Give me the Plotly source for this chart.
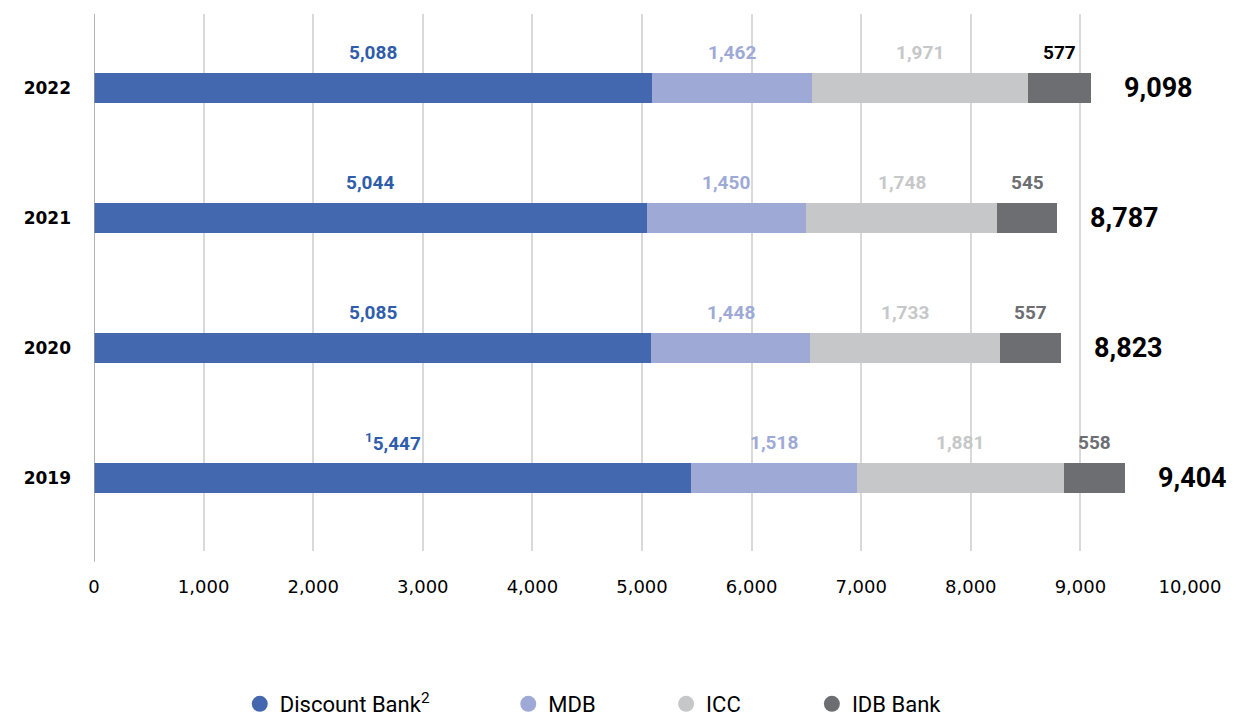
import plotly.graph_objects as go

years = ["2019", "2020", "2021", "2022"]
series_names = ["Discount Bank", "MDB", "ICC", "IDB Bank"]
discount_bank = [5447, 5085, 5044, 5088]
mdb = [1518, 1448, 1450, 1462]
icc = [1881, 1733, 1748, 1971]
idb_bank = [558, 557, 545, 577]
totals = [9404, 8823, 8787, 9098]
x_ticks = [0, 1000, 2000, 3000, 4000, 5000, 6000, 7000, 8000, 9000, 10000]

bar_colors = ["#4468B0", "#9EA9D6", "#C6C7C8", "#6D6E72"]
label_colors = ["#2F5DAA", "#9EA9D6", "#C6C7C8", "#6D6E72"]
legend_names = ["Discount Bank<sup>2</sup>", "MDB", "ICC", "IDB Bank"]
# left edge of each legend entry, in paper units along the x axis
legend_x = [0.133, 0.378, 0.522, 0.655]

series = [discount_bank, mdb, icc, idb_bank]

label_font = "Roboto, Liberation Sans, sans-serif"

fig = go.Figure()
for name, vals, col in zip(series_names, series, bar_colors):
    fig.add_trace(go.Bar(
        y=years, x=vals, name=name, orientation="h",
        marker=dict(color=col, line=dict(width=0)),
        showlegend=False, hoverinfo="x+name",
    ))

# circular legend swatches, one legend box per entry
legend_ids = ["legend", "legend2", "legend3", "legend4"]
for lname, col, lid in zip(legend_names, bar_colors, legend_ids):
    fig.add_trace(go.Scatter(
        x=[None], y=[None], mode="markers", name=lname,
        marker=dict(color=col, size=16, symbol="circle"),
        showlegend=True, legend=lid,
    ))

annotations = []
for i, yr in enumerate(years):
    start = 0
    for s, (vals, lc) in enumerate(zip(series, label_colors)):
        v = vals[i]
        center = start + v / 2
        txt = f"{v:,}"
        if s == 0 and yr == "2019":
            txt = "<sup>1</sup>" + txt
        color = lc
        if s == 3 and yr == "2022":
            color = "#000000"
        annotations.append(dict(
            x=center, y=i, text=f"<b>{txt}</b>", showarrow=False,
            yshift=36, xanchor="center", yanchor="middle",
            font=dict(family=label_font, size=19, color=color),
        ))
        start += v
    annotations.append(dict(
        x=totals[i], y=i, text=f"<b>{totals[i]:,}</b>", showarrow=False,
        xshift=31, xanchor="left", yanchor="middle",
        font=dict(family=label_font, size=27, color="#000000"),
    ))

legend_style = dict(
    orientation="h", xanchor="left", y=-0.285, yanchor="middle",
    font=dict(family="Roboto, sans-serif", size=22, color="#000000"),
    itemsizing="trace", bgcolor="rgba(0,0,0,0)",
)

fig.update_layout(
    barmode="stack",
    bargap=0.77,
    width=1236, height=718,
    margin=dict(l=94, r=46, t=14, b=167, autoexpand=False),
    plot_bgcolor="white", paper_bgcolor="white",
    annotations=annotations,
    font=dict(family="DejaVu Sans, sans-serif", color="#000000"),
    xaxis=dict(
        range=[0, 10000], tickvals=x_ticks,
        ticktext=[f"{t:,}" for t in x_ticks],
        showgrid=True, gridcolor="#D9D9D9", gridwidth=1.5,
        zeroline=False, showline=False,
        tickfont=dict(family="DejaVu Sans, sans-serif", size=18, color="#000000"),
        ticks="", ticklabelstandoff=23,
    ),
    yaxis=dict(
        type="category", categoryorder="array", categoryarray=years,
        range=[-0.56, 3.57],
        showgrid=False, zeroline=False, showline=False,
        tickfont=dict(family="DejaVu Sans, sans-serif", size=17, color="#000000", weight="bold"),
        ticks="", ticklabelstandoff=22,
    ),
    shapes=[dict(
        type="line", xref="x", yref="paper", x0=0, x1=0, y0=-0.02, y1=1,
        line=dict(color="#9A9A9A", width=1.5), layer="above",
    )],
    legend=dict(legend_style, x=legend_x[0]),
    legend2=dict(legend_style, x=legend_x[1]),
    legend3=dict(legend_style, x=legend_x[2]),
    legend4=dict(legend_style, x=legend_x[3]),
)

fig.write_html("out.html")
